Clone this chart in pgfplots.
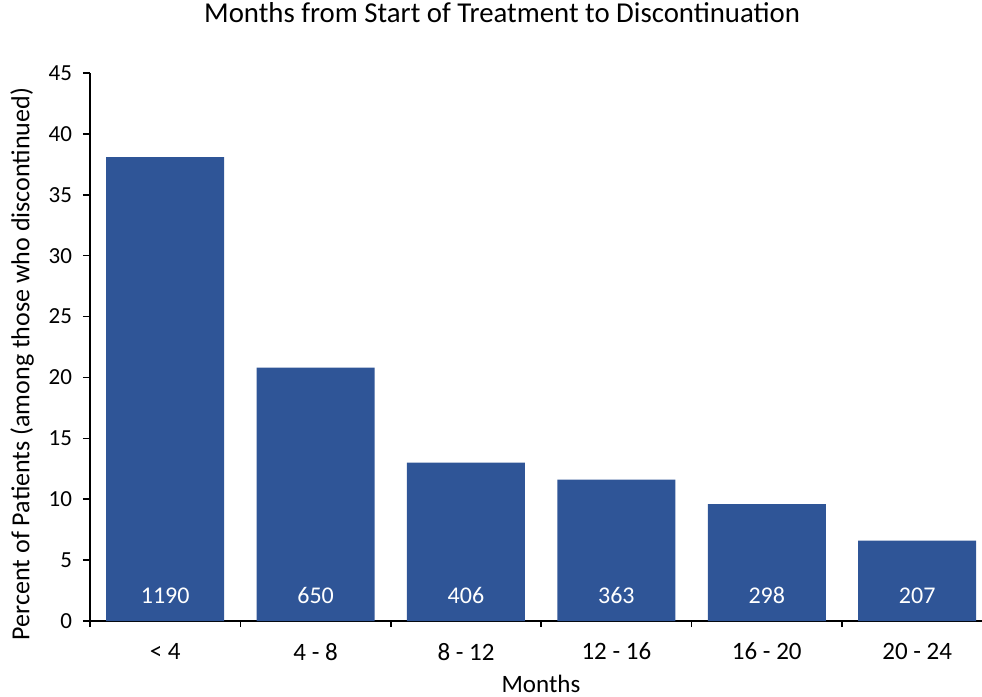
\documentclass[border=0pt]{standalone}
\usepackage{pgfplots}
\pgfplotsset{compat=1.18}
\usepackage{fontspec}
\setmainfont{Carlito}
\definecolor{barblue}{RGB}{47,85,151}

\pgfplotstableread{
x  pct   n     ly
0  38.1  1190  1.44
1  20.8  650   1.44
2  13.0  406   1.44
3  11.6  363   1.44
4  9.6   298   1.44
5  6.6   207   1.44
}\datatab

\begin{document}
\begin{tikzpicture}
\begin{axis}[
  scale only axis,
  width=446pt, height=274pt,
  xmin=-0.5, xmax=5.431,
  ymin=0, ymax=45,
  enlargelimits=false,
  axis x line=bottom, axis y line=left,
  axis line style={-, line width=1pt, black},
  tick align=outside,
  tick style={line width=0.8pt, black},
  xtick={0,...,5},
  xticklabels={< 4, 4 - 8, 8 - 12, 12 - 16, 16 - 20, 20 - 24},
  major x tick style={draw=none},
  minor xtick={-0.5,0.5,1.5,2.5,3.5,4.5},
  minor tick length=3pt,
  ytick={0,5,...,45},
  major tick length=3.5pt,
  /pgf/number format/assume math mode=true,
  yticklabel style={font=\fontsize{11.5}{13}\selectfont, xshift=-2pt},
  xticklabel style={font=\fontsize{12.5}{14}\selectfont, yshift=-4pt},
  title={Months from Start of Treatment to Discontinuation},
  title style={font=\fontsize{14.4}{17}\selectfont, at={(axis description cs:0.462,1.0876)}, anchor=center},
  xlabel={Months},
  xlabel style={font=\fontsize{12.5}{14}\selectfont, at={(axis description cs:0.5056,-0.114)}, anchor=center},
  ylabel={Percent of Patients (among those who discontinued)},
  ylabel style={font=\fontsize{13}{15}\selectfont, at={(axis description cs:-0.0762,0.469)}, anchor=center},
  clip=false,
]
\addplot[ybar, bar width=59pt, fill=barblue, draw=none] table[x=x, y=pct] {\datatab};
\addplot[draw=none, mark=none, nodes near coords, point meta=explicit symbolic,
  nodes near coords style={anchor=base, white, font=\fontsize{12}{14}\selectfont}]
  table[x=x, y=ly, meta=n] {\datatab};
\end{axis}
\pgfresetboundingbox
\path[use as bounding box] ([shift={(-45pt,-38pt)}]current axis.south west) rectangle ([shift={(0pt,36.5pt)}]current axis.north east);
\end{tikzpicture}
\end{document}
